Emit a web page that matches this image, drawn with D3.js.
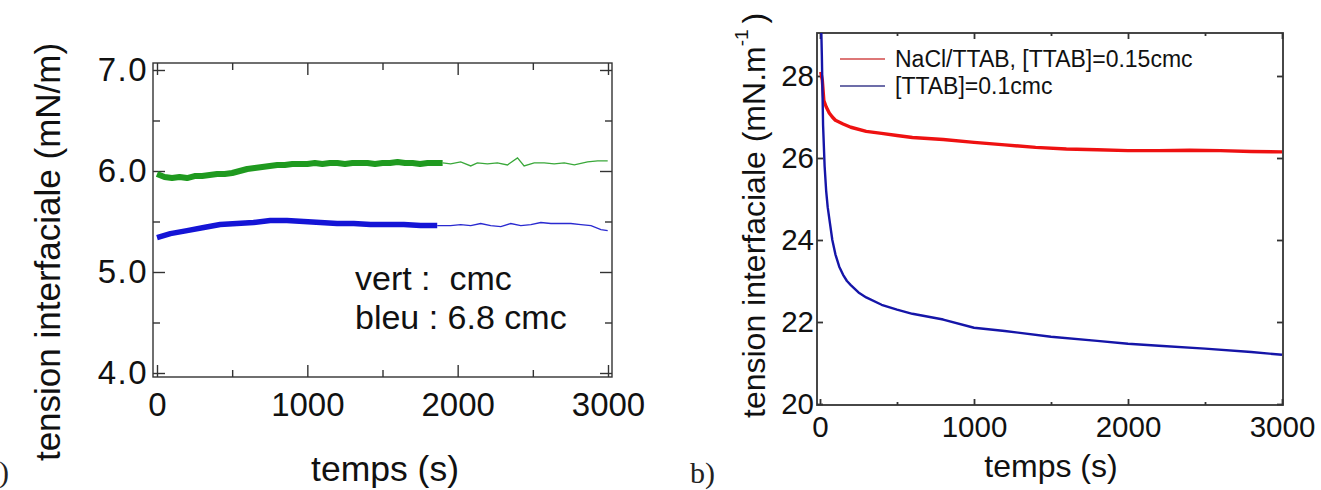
<!DOCTYPE html>
<html>
<head>
<meta charset="utf-8">
<script src="https://cdn.jsdelivr.net/npm/d3@7"></script>
<style>
  body { margin: 0; background: #fff; }
  svg { display: block; font-family: "Liberation Sans", Arial, sans-serif; }
  .frame { fill: none; stroke: #333; }
  .tick line { stroke: #333; }
  .domain { display: none; }
</style>
</head>
<body>
<div id="chart"></div>
<script>
// ---- data, panel a) (tension in mN/m vs time in s) ----
var greenDenseT = [0, 50, 100, 150, 200, 250, 300, 350, 400, 450, 500, 550, 600, 650, 700, 750, 800, 850, 900, 950,
  1000, 1050, 1100, 1150, 1200, 1250, 1300, 1350, 1400, 1450, 1500, 1550, 1600, 1650, 1700, 1750, 1800, 1850, 1900];
var greenDenseV = [5.97, 5.94, 5.93, 5.94, 5.93, 5.95, 5.95, 5.96, 5.97, 5.97, 5.98, 6.00, 6.02, 6.03, 6.04, 6.05, 6.06, 6.06, 6.07, 6.07,
  6.07, 6.08, 6.07, 6.08, 6.08, 6.07, 6.08, 6.08, 6.08, 6.07, 6.08, 6.08, 6.09, 6.08, 6.08, 6.07, 6.08, 6.08, 6.08];
var greenThinT = [1900, 1953, 2020, 2087, 2131, 2198, 2264, 2331, 2398, 2442, 2509, 2576, 2642, 2709, 2776, 2864, 2931, 2998];
var greenThinV = [6.08, 6.07, 6.09, 6.05, 6.08, 6.07, 6.08, 6.06, 6.13, 6.05, 6.08, 6.08, 6.07, 6.08, 6.06, 6.09, 6.10, 6.10];

var blueDenseT = [0, 89, 200, 311, 420, 531, 642, 753, 864, 976, 1087, 1198, 1309, 1420, 1531, 1642, 1753, 1864];
var blueDenseV = [5.34, 5.38, 5.41, 5.44, 5.47, 5.48, 5.49, 5.51, 5.51, 5.50, 5.49, 5.48, 5.48, 5.47, 5.47, 5.47, 5.46, 5.46];
var blueThinT = [1864, 1953, 2020, 2087, 2153, 2220, 2287, 2353, 2420, 2487, 2553, 2620, 2687, 2753, 2820, 2887, 2953, 2998];
var blueThinV = [5.46, 5.46, 5.47, 5.46, 5.48, 5.46, 5.45, 5.48, 5.46, 5.47, 5.49, 5.48, 5.48, 5.48, 5.47, 5.46, 5.42, 5.41];

var aXTicks = [0, 1000, 2000, 3000];
var aXMinor = [500, 1500, 2500];
var aYTicks = [4.0, 5.0, 6.0, 7.0];
var aYMinor = [4.5, 5.5, 6.5];
var aNotes = ["vert :  cmc", "bleu : 6.8 cmc"];

// ---- data, panel b) ----
var redT = [5, 15, 25, 40, 60, 80, 100, 150, 200, 300, 400, 500, 600, 800, 1000, 1200, 1400, 1600, 1800, 2000, 2200, 2400, 2600, 2800, 3000];
var redV = [28.1, 27.9, 27.4, 27.25, 27.1, 27.0, 26.92, 26.83, 26.75, 26.65, 26.6, 26.55, 26.5, 26.45, 26.38, 26.32, 26.26, 26.22, 26.2, 26.18, 26.18, 26.19, 26.18, 26.16, 26.15];
var navyT = [0, 12, 20, 30, 40, 50, 65, 80, 100, 125, 150, 175, 200, 250, 300, 400, 500, 600, 800, 1000, 1200, 1500, 1800, 2000, 2200, 2500, 2800, 3000];
var navyV = [30.5, 28.5, 26.8, 25.8, 25.2, 24.8, 24.4, 24.0, 23.65, 23.35, 23.15, 23.0, 22.9, 22.72, 22.6, 22.42, 22.3, 22.2, 22.06, 21.86, 21.78, 21.64, 21.54, 21.47, 21.42, 21.35, 21.27, 21.2];

var bXTicks = [0, 1000, 2000, 3000];
var bXMinor = [500, 1500, 2500];
var bYTicks = [20, 22, 24, 26, 28];
var bLegend = ["NaCl/TTAB, [TTAB]=0.15cmc", "[TTAB]=0.1cmc"];

function zipPts(ts, vs) {
  return ts.map(function(t, i) { return [t, vs[i]]; });
}

var svg = d3.select("#chart").append("svg")
  .attr("width", 1321)
  .attr("height", 490);

// draw a boxed panel with inward ticks on all four sides
function drawFrame(g, x, y, box, opt) {
  g.append("rect")
    .attr("class", "frame")
    .attr("x", box.left).attr("y", box.top)
    .attr("width", box.right - box.left)
    .attr("height", box.bottom - box.top)
    .attr("stroke-width", opt.stroke);

  var axes = [
    [d3.axisBottom(x), "translate(0," + box.bottom + ")", opt.xTicks, opt.xFmt],
    [d3.axisTop(x), "translate(0," + box.top + ")", opt.xTicks, ""],
    [d3.axisLeft(y), "translate(" + box.left + ",0)", opt.yTicks, opt.yFmt],
    [d3.axisRight(y), "translate(" + box.right + ",0)", opt.yTicks, ""]
  ];
  axes.forEach(function(a, i) {
    var isX = i < 2;
    var ax = a[0].tickValues(a[2]).tickSize(-opt.major)
      .tickPadding(isX ? opt.xPad : opt.yPad)
      .tickFormat(a[3]);
    var ag = g.append("g").attr("transform", a[1]).call(ax);
    ag.selectAll("text")
      .style("font-size", (isX ? opt.xFont : opt.yFont) + "px")
      .style("letter-spacing", (isX ? 0 : opt.ySpacing) + "px")
      .attr("fill", "#111");
    ag.selectAll("line").attr("stroke-width", opt.stroke);

    var minor = isX ? opt.xMinor : opt.yMinor;
    if (minor && minor.length) {
      var m = (i == 0 ? d3.axisBottom(x) : i == 1 ? d3.axisTop(x) : i == 2 ? d3.axisLeft(y) : d3.axisRight(y))
        .tickValues(minor).tickSize(-opt.minor).tickFormat("");
      g.append("g").attr("transform", a[1]).call(m)
        .selectAll("line").attr("stroke-width", opt.stroke);
    }
  });
}

// ================= panel a) =================
var gA = svg.append("g");
var boxA = {left: 153, right: 612, top: 63, bottom: 377};
var xA = d3.scaleLinear().domain([0, 3000]).range([157, 608]);
var yA = d3.scaleLinear().domain([4, 7]).range([373, 70]);

drawFrame(gA, xA, yA, boxA, {
  xTicks: aXTicks, xMinor: aXMinor, yTicks: aYTicks, yMinor: aYMinor,
  major: 12, minor: 7, stroke: 1.4, xFont: 33, yFont: 33, ySpacing: 1.5, xPad: 16, yPad: 5,
  xFmt: function(d) { return d; },
  yFmt: function(d) { return d.toFixed(1); }
});

var lineA = d3.line()
  .x(function(d) { return xA(d[0]); })
  .y(function(d) { return yA(d[1]); });

gA.append("path").datum(zipPts(greenDenseT, greenDenseV))
  .attr("d", lineA).attr("fill", "none")
  .attr("stroke", "#1f9a1f").attr("stroke-width", 6).attr("stroke-linejoin", "round");
gA.append("path").datum(zipPts(greenThinT, greenThinV))
  .attr("d", lineA).attr("fill", "none")
  .attr("stroke", "#3aa83a").attr("stroke-width", 1.3);
gA.append("path").datum(zipPts(blueDenseT, blueDenseV))
  .attr("d", lineA).attr("fill", "none")
  .attr("stroke", "#1414d6").attr("stroke-width", 5.5).attr("stroke-linejoin", "round");
gA.append("path").datum(zipPts(blueThinT, blueThinV))
  .attr("d", lineA).attr("fill", "none")
  .attr("stroke", "#2a2ad0").attr("stroke-width", 1.3);

gA.selectAll("text.note")
  .data(aNotes)
  .enter().append("text")
  .attr("class", "note")
  .attr("x", 355)
  .attr("y", function(d, i) { return 290 + i * 39; })
  .attr("xml:space", "preserve")
  .style("white-space", "pre")
  .style("font-size", "34px")
  .attr("fill", "#111")
  .text(function(d) { return d; });

gA.append("text")
  .attr("text-anchor", "middle")
  .attr("transform", "translate(60,252)rotate(-90)")
  .style("font-size", "35px")
  .attr("fill", "#111")
  .text("tension interfaciale (mN/m)");

gA.append("text")
  .attr("text-anchor", "middle")
  .attr("x", 385).attr("y", 481)
  .style("font-size", "35.5px")
  .attr("fill", "#111")
  .text("temps (s)");

gA.append("text")
  .attr("text-anchor", "end")
  .attr("x", 9).attr("y", 482)
  .style("font-family", "'Liberation Serif', serif")
  .style("font-size", "30px")
  .attr("fill", "#222")
  .text("a)");

// ================= panel b) =================
var gB = svg.append("g");
var boxB = {left: 817, right: 1283, top: 33, bottom: 405};
var xB = d3.scaleLinear().domain([0, 3000]).range([820, 1282]);
var yB = d3.scaleLinear().domain([20, 28]).range([404, 76]);

svg.append("clipPath").attr("id", "clipB")
  .append("rect")
  .attr("x", boxB.left).attr("y", boxB.top)
  .attr("width", boxB.right - boxB.left)
  .attr("height", boxB.bottom - boxB.top);

drawFrame(gB, xB, yB, boxB, {
  xTicks: bXTicks, xMinor: bXMinor, yTicks: bYTicks, yMinor: [],
  major: 6, minor: 3, stroke: 1.8, xFont: 29.5, yFont: 29.5, ySpacing: 0, xPad: 11, yPad: 3,
  xFmt: function(d) { return d; },
  yFmt: function(d) { return d; }
});

var lineB = d3.line()
  .x(function(d) { return xB(d[0]); })
  .y(function(d) { return yB(d[1]); });

gB.append("path").datum(zipPts(redT, redV))
  .attr("clip-path", "url(#clipB)")
  .attr("d", lineB).attr("fill", "none")
  .attr("stroke", "#ee1111").attr("stroke-width", 3.4).attr("stroke-linejoin", "round");
gB.append("path").datum(zipPts(navyT, navyV))
  .attr("clip-path", "url(#clipB)")
  .attr("d", lineB).attr("fill", "none")
  .attr("stroke", "#1515a8").attr("stroke-width", 2.4).attr("stroke-linejoin", "round");

// legend
var legColors = ["#d24a4a", "#3d3d8c"];
bLegend.forEach(function(lbl, i) {
  var ly = 59 + i * 27;
  gB.append("line")
    .attr("x1", 840).attr("x2", 885)
    .attr("y1", ly).attr("y2", ly)
    .attr("stroke", legColors[i]).attr("stroke-width", 1.5);
  gB.append("text")
    .attr("x", 895).attr("y", ly + 8)
    .style("font-size", "23px")
    .attr("fill", "#111")
    .text(lbl);
});

var yTitle = gB.append("text")
  .attr("transform", "translate(765,418)rotate(-90)")
  .style("font-size", "32px")
  .attr("fill", "#111");
yTitle.append("tspan").text("tension interfaciale (mN.m");
yTitle.append("tspan").attr("dy", -17).style("font-size", "19px").text("-1");
yTitle.append("tspan").attr("dy", 17).attr("dx", 6).text(")");

gB.append("text")
  .attr("text-anchor", "middle")
  .attr("x", 1051).attr("y", 477)
  .style("font-size", "32px")
  .attr("fill", "#111")
  .text("temps (s)");

gB.append("text")
  .attr("x", 690).attr("y", 483)
  .style("font-family", "'Liberation Serif', serif")
  .style("font-size", "30px")
  .attr("fill", "#222")
  .text("b)");
</script>
</body>
</html>
